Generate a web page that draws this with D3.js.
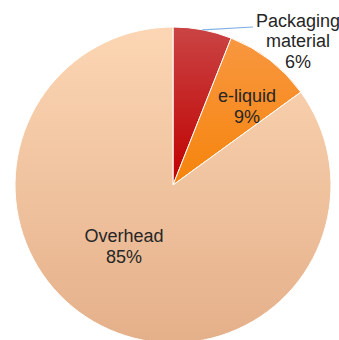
<!DOCTYPE html>
<html lang="en">
<head>
  <meta charset="UTF-8">
  <title>Cost breakdown</title>
  <style>
    body { margin: 0; background: #fff; }
    text { font-family: "Liberation Sans", Arial, sans-serif; fill: #262626; }
  </style>
</head>
<body>
  <svg id="svg" width="339" height="340"></svg>

  <script src="https://d3js.org/d3.v7.min.js"></script>
  <script>
    const categories = ['Packaging material', 'e-liquid', 'Overhead']
    const shares = [6, 9, 85]
    const labelLines = [['Packaging', 'material', '6%'], ['e-liquid', '9%'], ['Overhead', '85%']]

    // gradient stops per slice (top -> bottom of each slice)
    const topColors = ['#ca4444', '#f89740', '#fcd6b4']
    const bottomColors = ['#c00000', '#f6840c', '#e4b08a']

    const cx = 173, cy = 185, R = 158

    const svg = d3.select('#svg')
    const defs = svg.append('defs')

    categories.forEach((c, i) => {
      const g = defs.append('linearGradient')
        .attr('id', 'grad' + i)
        .attr('x1', 0).attr('y1', 0)
        .attr('x2', 0).attr('y2', 1)
      g.append('stop').attr('offset', '0%').attr('stop-color', topColors[i])
      g.append('stop').attr('offset', '100%').attr('stop-color', bottomColors[i])
    })

    const data = categories.map((c, i) => ({ name: c, value: shares[i], lines: labelLines[i] }))

    const pie = d3.pie().sort(null).value(d => d.value)
    const arcs = pie(data)
    const arc = d3.arc().innerRadius(0).outerRadius(R)

    const g = svg.append('g').attr('transform', `translate(${cx},${cy})`)

    g.selectAll('path.slice')
      .data(arcs)
      .enter()
      .append('path')
      .attr('class', 'slice')
      .attr('d', arc)
      .attr('fill', (d, i) => `url(#grad${i})`)
      .attr('stroke', '#fff')
      .attr('stroke-width', 1)

    // label block centre relative to pie centre (Excel "best fit" spots)
    const labelPos = [[125, -144], [74, -79], [-49, 61]]
    const fontSize = 18
    const lineH = 20.5

    arcs.forEach((a, i) => {
      const [x, y] = labelPos[i]
      const lines = a.data.lines
      if (i === 0) {
        // leader line from the slice edge to the outside label
        const mid = (a.startAngle + a.endAngle) / 2
        const ex = Math.sin(mid) * R, ey = -Math.cos(mid) * R
        g.append('path')
          .attr('d', d3.line()([[ex, ey], [x - 45, y - 14]]))
          .attr('stroke', '#7fb0e6')
          .attr('stroke-width', 1.2)
          .attr('fill', 'none')
      }
      const t = g.append('text')
        .attr('text-anchor', 'middle')
        .style('font-size', fontSize + 'px')
      lines.forEach((l, j) => {
        t.append('tspan')
          .attr('x', x)
          .attr('y', y + (j - (lines.length - 1) / 2) * lineH + fontSize * 0.35)
          .text(l)
      })
    })
  </script>
</body>
</html>
